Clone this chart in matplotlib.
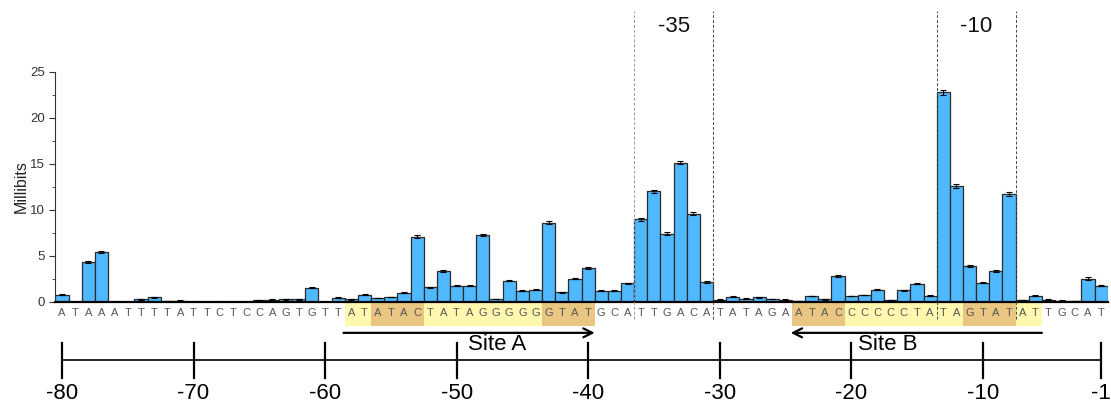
import numpy as np
import matplotlib.pyplot as plt
from matplotlib.patches import Rectangle
from matplotlib.ticker import MultipleLocator

plt.rcParams['font.family'] = ['Liberation Sans', 'DejaVu Sans']

# positions -80 .. -1 relative to the start site
positions = np.arange(-80, 0)
sequence = "ATAAATTTTATTCTCCAGTGTT" "ATATACTATAGGGGGGTAT" "GCATTGACATATAGA" \
           "ATACCCCCCTATAGTATAT" "TGCAT"

millibits = [
    0.8, 0.0, 4.3, 5.45, 0.05, 0.0, 0.3, 0.5, 0.1, 0.15,
    0.05, 0.0, 0.05, 0.0, 0.0, 0.2, 0.25, 0.3, 0.3, 1.55,
    0.0, 0.47, 0.3, 0.8, 0.43, 0.54, 1.0, 7.1, 1.6, 3.37,
    1.78, 1.78, 7.28, 0.33, 2.32, 1.23, 1.34, 8.62, 1.05, 2.54,
    3.7, 1.23, 1.2, 2.03, 8.99, 12.0, 7.43, 15.14, 9.6, 2.17,
    0.25, 0.58, 0.36, 0.5, 0.33, 0.25, 0.1, 0.65, 0.3, 2.86,
    0.65, 0.76, 1.34, 0.22, 1.27, 2.0, 0.69, 22.75, 12.6, 3.95,
    2.1, 3.37, 11.74, 0.22, 0.69, 0.25, 0.14, 0.1, 2.54, 1.78,
]
errors = [
    0.08, 0.0, 0.12, 0.12, 0.03, 0.0, 0.05, 0.06, 0.04, 0.04,
    0.03, 0.0, 0.03, 0.0, 0.0, 0.04, 0.04, 0.05, 0.05, 0.06,
    0.0, 0.05, 0.05, 0.06, 0.05, 0.05, 0.06, 0.14, 0.06, 0.08,
    0.06, 0.06, 0.1, 0.04, 0.08, 0.06, 0.06, 0.12, 0.05, 0.08,
    0.09, 0.06, 0.06, 0.07, 0.15, 0.2, 0.15, 0.2, 0.18, 0.07,
    0.04, 0.05, 0.04, 0.04, 0.04, 0.04, 0.03, 0.05, 0.04, 0.12,
    0.05, 0.05, 0.06, 0.04, 0.06, 0.07, 0.05, 0.25, 0.18, 0.12,
    0.07, 0.08, 0.22, 0.04, 0.05, 0.04, 0.03, 0.03, 0.12, 0.07,
]

# highlighted stretches of the sequence: (first, last, colour)
light = "#FFF9B0"
dark = "#E9C782"
highlights = [(-58, -57, light), (-56, -53, dark), (-52, -44, light), (-43, -40, dark),
              (-24, -21, dark), (-20, -12, light), (-11, -8, dark), (-7, -6, light)]
boxes = [(-36, -31, "-35"), (-13, -8, "-10")]
ruler_ticks = [-80, -70, -60, -50, -40, -30, -20, -10, -1]

fig = plt.figure(figsize=(11.11, 4.04), dpi=100)
ax = fig.add_axes([0.0499, 0.2525, 0.9471, 0.570])

ax.bar(positions, millibits, width=1.0, color="#4FB9FF", edgecolor="#2a2a2a",
       linewidth=0.9, zorder=2)
ax.errorbar(positions, millibits, yerr=errors, fmt="none", ecolor="black",
            elinewidth=0.8, capsize=2.5, capthick=0.8, zorder=3)

ax.set_xlim(-80.5, -0.5)
ax.set_ylim(0, 25)
ax.yaxis.set_major_locator(MultipleLocator(5))
ax.yaxis.set_minor_locator(MultipleLocator(2.5))
ax.tick_params(axis="y", which="major", length=4, labelsize=9.5, colors="#333333")
ax.tick_params(axis="y", which="minor", length=2.5, color="#333333")
ax.set_xticks([])
ax.set_ylabel("Millibits", fontsize=11.5, color="#222222", labelpad=1)
ax.spines["top"].set_visible(False)
ax.spines["right"].set_visible(False)
ax.spines["left"].set_color("#333333")
ax.spines["bottom"].set_linewidth(1.6)
ax.spines["bottom"].set_zorder(4)

# sequence letters with shaded sites
for start, end, col in highlights:
    ax.add_patch(Rectangle((start - 0.5, -2.6), end - start + 1, 2.6, facecolor=col,
                           edgecolor="none", clip_on=False, zorder=1))
for p, base in zip(positions, sequence):
    ax.text(p, -1.2, base, ha="center", va="center", fontsize=8, color="#555555",
            clip_on=False, zorder=2)

# -35 and -10 boxes
for i, (start, end, label) in enumerate(boxes):
    for k, xv in enumerate((start - 0.5, end + 0.5)):
        col = "#999999" if (i == 0 and k == 0) else "#444444"
        ax.plot([xv, xv], [-1.85, 31.6], ls=(0, (3, 2)), lw=0.7, color=col,
                clip_on=False, zorder=5)
    ax.text((start + end) / 2, 29.9, label, ha="center", va="center", fontsize=16,
            color="#111111")

# site arrows
ax.annotate("", xy=(-39.5, -3.35), xytext=(-58.6, -3.35), annotation_clip=False,
            arrowprops=dict(arrowstyle="->", lw=1.6, color="black",
                            mutation_scale=16, shrinkA=0, shrinkB=0))
ax.annotate("", xy=(-24.6, -3.35), xytext=(-5.5, -3.35), annotation_clip=False,
            arrowprops=dict(arrowstyle="->", lw=1.6, color="black",
                            mutation_scale=16, shrinkA=0, shrinkB=0))
ax.text(-46.9, -4.6, "Site A", ha="center", va="center", fontsize=16)
ax.text(-17.2, -4.6, "Site B", ha="center", va="center", fontsize=16)

# position ruler below
ax.plot([-80, -1], [-6.31, -6.31], color="black", lw=1.2, clip_on=False)
for t in ruler_ticks:
    ax.plot([t, t], [-4.4, -8.23], color="black", lw=1.6, clip_on=False)
    ax.text(t, -9.9, str(t), ha="center", va="center", fontsize=16)

fig.savefig("out.png", dpi=100)
